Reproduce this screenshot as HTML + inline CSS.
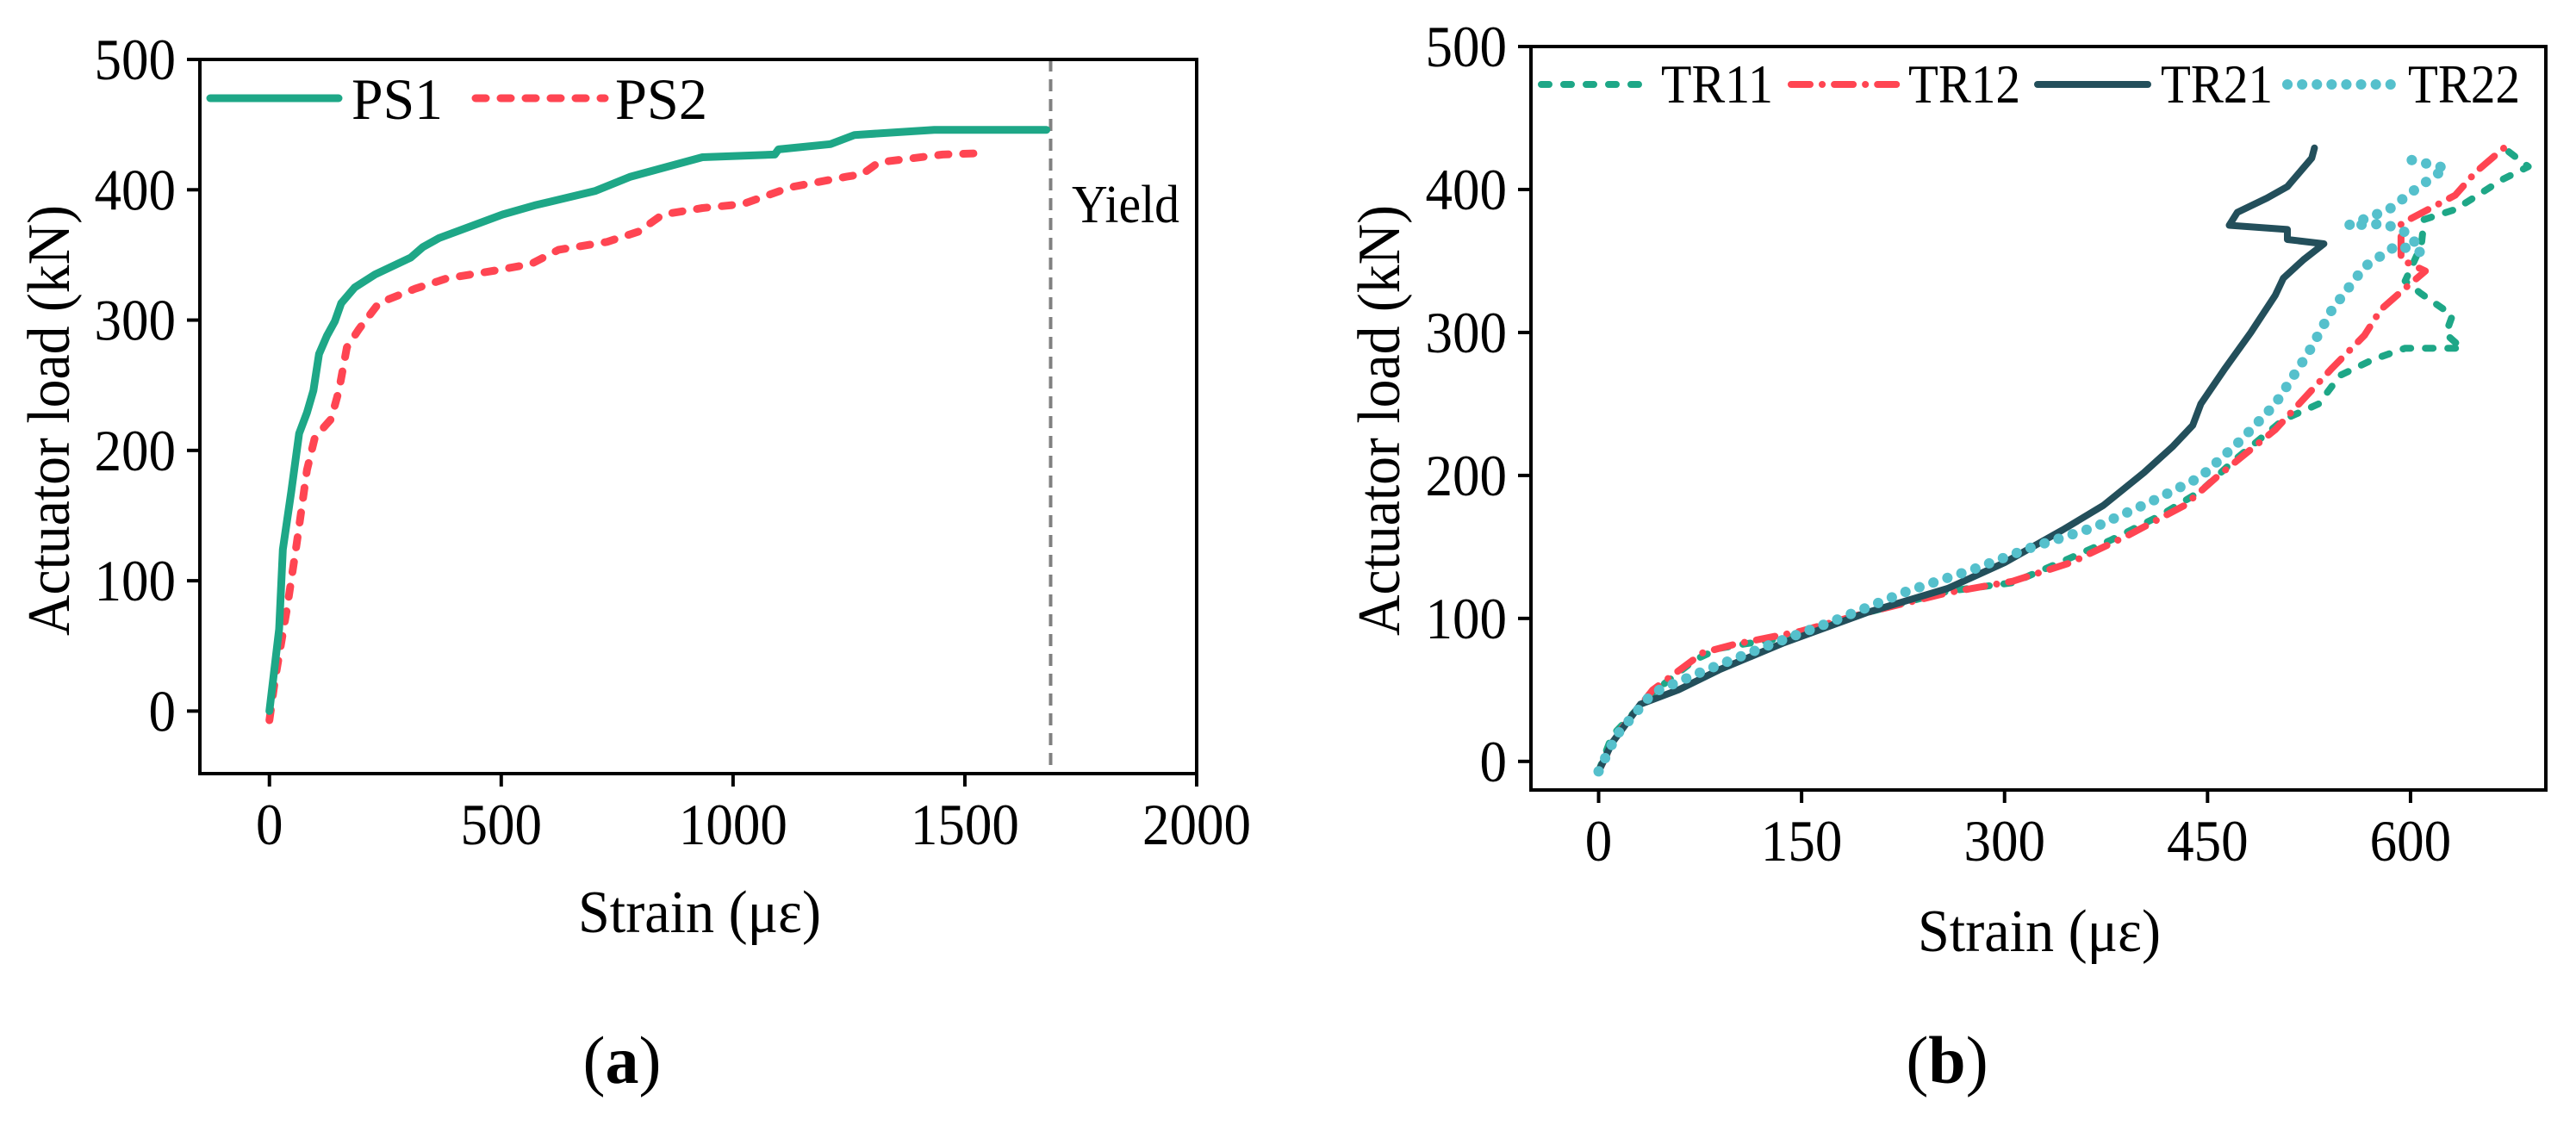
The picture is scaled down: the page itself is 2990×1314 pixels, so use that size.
<!DOCTYPE html>
<html><head><meta charset="utf-8">
<style>
html,body{margin:0;padding:0;background:#fff;}
svg{display:block;font-family:"Liberation Serif","DejaVu Serif",serif;}
</style></head>
<body>
<svg id="fig" width="2990" height="1314" viewBox="0 0 2990 1314" xmlns="http://www.w3.org/2000/svg">
<rect x="0" y="0" width="2990" height="1314" fill="#fff"/>
</svg>
<script>
// Panel (a) data
const aXTicks = [0, 500, 1000, 1500, 2000];
const aYTicks = [0, 100, 200, 300, 400, 500];
const ps1X = [0,21,29,47,64,81,95,107,124,141,155,184,228,305,331,366,503,572,702,779,934,1090,1098,1210,1262,1434,1676];
const ps1Y = [0,63,124,168,213,229,246,274,288,299,313,325,335,348,356,363,381,388,399,410,425,427,431,435,442,446,446];
const ps2X = [0,12,38,59,81,98,133,150,167,193,236,314,383,486,564,624,728,797,848,934,1021,1124,1245,1279,1314,1452,1529];
const ps2Y = [-7,24,79,129,185,210,224,246,279,293,313,324,332,338,343,354,360,368,381,386,389,402,410,412,421,427,428];
const yieldStrain = 1685;

// Panel (b) data
const bXTicks = [0, 150, 300, 450, 600];
const bYTicks = [0, 100, 200, 300, 400, 500];
const tr11X = [0,10,40,71,89,107,149,198,258,306,343,379,415,445,469,506,532,548,572,596,638,626,631,608,596,608,610,633,668,687,669];
const tr11Y = [-7,18,48,71,79,82,88,104,119,125,140,155,172,189,210,239,250,270,281,289,289,299,312,327,336,361,379,386,407,416,429];
const tr12X = [0,13,40,77,101,149,198,258,306,349,391,433,457,500,542,566,578,596,611,593,593,633,648,669];
const tr12Y = [-7,18,50,76,82,91,104,118,126,139,158,179,199,232,275,298,316,331,343,351,376,396,412,429];
const tr21X = [0,10,31,59,89,137,198,258,300,343,373,403,424,439,445,463,482,500,506,521,536,509,509,466,472,494,509,527,529];
const tr21Y = [-7,13,40,50,64,83,104,121,139,162,179,202,220,235,250,275,300,326,338,351,362,365,372,375,384,394,402,422,429];
const tr22X = [0,13,40,77,125,173,228,276,318,367,409,445,475,500,524,542,566,590,608,599,581,554,584,602,626,599,593];
const tr22Y = [-7,18,48,63,81,98,119,134,149,164,182,199,225,250,285,316,346,361,356,369,376,375,386,399,415,421,426];

const NS = "http://www.w3.org/2000/svg";
const svg = document.getElementById('fig');
function mk(tag, attrs, parent){
  const e = document.createElementNS(NS, tag);
  for (const k in attrs) e.setAttribute(k, attrs[k]);
  (parent||svg).appendChild(e);
  return e;
}
function txt(s, attrs, parent){ const t = mk('text', attrs, parent); t.textContent = s; return t; }

function axes(cfg){
  const sx = v => cfg.L + (v - cfg.xmin) / (cfg.xmax - cfg.xmin) * (cfg.R - cfg.L);
  const sy = v => cfg.B - (v - cfg.ymin) / (cfg.ymax - cfg.ymin) * (cfg.B - cfg.T);
  return {sx, sy};
}
function path(xs, ys, ax){
  return xs.map((x,i)=> (i?'L':'M') + ax.sx(x).toFixed(1) + ' ' + ax.sy(ys[i]).toFixed(1)).join(' ');
}
function frame(cfg, ax, xTicks, yTicks, g){
  const f = mk('rect', {x:cfg.L, y:cfg.T, width:cfg.R-cfg.L, height:cfg.B-cfg.T, fill:'none', stroke:'#000', 'stroke-width':4}, g);
  
  
  xTicks.forEach(v=>{
    const x = ax.sx(v);
    const t = mk('line', {x1:x, x2:x, y1:cfg.B, y2:cfg.B+15, stroke:'#000','stroke-width':4}, g);
    
    
    const s = String(v);
    const l = txt(s, {x:x, y:cfg.B+82, 'font-size':68, 'text-anchor':'middle', textLength:31.5*s.length, lengthAdjust:'spacingAndGlyphs'}, g);
    
    
  });
  yTicks.forEach(v=>{
    const y = ax.sy(v);
    const t = mk('line', {x1:cfg.L-15, x2:cfg.L, y1:y, y2:y, stroke:'#000','stroke-width':4}, g);
    
    
    const s = String(v);
    const l = txt(s, {x:cfg.L-28, y:y+23, 'font-size':68, 'text-anchor':'end', textLength:31.5*s.length, lengthAdjust:'spacingAndGlyphs'}, g);
    
    
  });
}
function series(d, color, dash, width, g, name){
  const attrs = {d:d, fill:'none', stroke:color, 'stroke-width':width, 'stroke-linecap':'round', 'stroke-linejoin':'round'};
  if (dash) attrs['stroke-dasharray'] = dash;
  const p = mk('path', attrs, g);
  
  
  return p;
}

// ---------- Panel (a) ----------
const gA = mk('g', {});


const cfgA = {L:232, R:1389, T:69, B:898, xmin:-150, xmax:2000, ymin:-48, ymax:500};
const axA = axes(cfgA);
const yl = mk('line', {x1:axA.sx(yieldStrain), x2:axA.sx(yieldStrain), y1:cfgA.T, y2:cfgA.B, stroke:'#808080', 'stroke-width':4, 'stroke-dasharray':'14 9'}, gA);


series(path(ps2X, ps2Y, axA), '#ff4552', '12 17', 9, gA, 'ps2-line');
series(path(ps1X, ps1Y, axA), '#1ea787', null, 9, gA, 'ps1-line');
frame(cfgA, axA, aXTicks, aYTicks, gA);
let t;
t = txt('Yield', {x:1244, y:258, 'font-size':62, textLength:125, lengthAdjust:'spacingAndGlyphs'}, gA);
 
t = mk('line', {x1:244, x2:393, y1:114, y2:114, stroke:'#1ea787', 'stroke-width':9, 'stroke-linecap':'round'}, gA);
 
t = txt('PS1', {x:408, y:138, 'font-size':68, textLength:106, lengthAdjust:'spacingAndGlyphs'}, gA);
 
t = mk('line', {x1:552, x2:702, y1:114, y2:114, stroke:'#ff4552', 'stroke-width':9, 'stroke-linecap':'round', 'stroke-dasharray':'12 17'}, gA);
 
t = txt('PS2', {x:714, y:138, 'font-size':68, textLength:107, lengthAdjust:'spacingAndGlyphs'}, gA);
 
t = txt('Actuator load (kN)', {x:0, y:0, 'font-size':70, 'text-anchor':'middle', textLength:500, lengthAdjust:'spacingAndGlyphs', transform:'translate(80,488) rotate(-90)'}, gA);
 
t = txt('Strain (με)', {x:812, y:1082, 'font-size':70, 'text-anchor':'middle', textLength:282, lengthAdjust:'spacingAndGlyphs'}, gA);
 
t = txt('(a)', {x:722, y:1257, 'font-size':78, 'text-anchor':'middle'}, gA);
 
t.innerHTML = '(<tspan font-weight="bold">a</tspan>)';

// ---------- Panel (b) ----------
const gB = mk('g', {});


const cfgB = {L:1777, R:2955, T:54, B:917, xmin:-50, xmax:700, ymin:-20, ymax:500};
const axB = axes(cfgB);
series(path(tr11X, tr11Y, axB), '#1ea787', '9 17', 8, gB, 'tr11-line');
series(path(tr12X, tr12Y, axB), '#ff4552', '22 14 0.1 14', 8, gB, 'tr12-line');
series(path(tr21X, tr21Y, axB), '#234f5b', null, 8, gB, 'tr21-line');
series(path(tr22X, tr22Y, axB), '#55c0cc', '0.1 17', 12, gB, 'tr22-line');
frame(cfgB, axB, bXTicks, bYTicks, gB);
const legB = [
  ['TR11','#1ea787','9 17',8,1789,1912,1928],
  ['TR12','#ff4552','22 14 0.1 14',8,2079,2208,2215],
  ['TR21','#234f5b',null,8,2365,2493,2508],
  ['TR22','#55c0cc','0.1 17',12,2655,2779,2795]
];
legB.forEach(l=>{
  const a = {x1:l[4], x2:l[5], y1:98, y2:98, stroke:l[1], 'stroke-width':l[3], 'stroke-linecap':'round'};
  if (l[2]) a['stroke-dasharray'] = l[2];
  const s = mk('line', a, gB);
  
  
  const tt = txt(l[0], {x:l[6], y:119, 'font-size':64, textLength:130, lengthAdjust:'spacingAndGlyphs'}, gB);
  
  
});
t = txt('Actuator load (kN)', {x:0, y:0, 'font-size':70, 'text-anchor':'middle', textLength:500, lengthAdjust:'spacingAndGlyphs', transform:'translate(1624,488) rotate(-90)'}, gB);
 
t = txt('Strain (με)', {x:2367, y:1104, 'font-size':70, 'text-anchor':'middle', textLength:282, lengthAdjust:'spacingAndGlyphs'}, gB);
 
t = txt('(b)', {x:2260, y:1257, 'font-size':78, 'text-anchor':'middle'}, gB);
 
t.innerHTML = '(<tspan font-weight="bold">b</tspan>)';
</script>
</body></html>
